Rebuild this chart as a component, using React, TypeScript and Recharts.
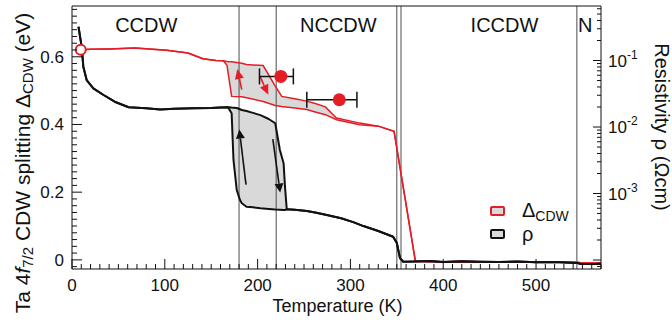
import React from "react";
import {
  ComposedChart,
  Area,
  Line,
  Scatter,
  ErrorBar,
  XAxis,
  YAxis,
  ReferenceLine,
  ReferenceDot,
  Legend,
} from "recharts";

const FONT = '"Liberation Sans", Arial, Helvetica, sans-serif';
const RED = "#e41e26";
const INK = "#111111";
const FILL = "#d9d9d9";
const RULE = "#4d4d4d";

// Ta 4f7/2 CDW splitting (eV), heating and cooling branches
const deltaTemps = [9, 20, 40, 68, 102, 125, 141, 155, 163, 167, 172, 183, 188, 206, 219, 226, 240, 253, 262, 273, 285, 310, 330, 347, 370, 400, 450, 500, 544, 550, 570];
const deltaHeat = [0.621, 0.622, 0.623, 0.626, 0.619, 0.611, 0.594, 0.589, 0.588, 0.586, 0.585, 0.581, 0.577, 0.574, 0.513, 0.483, 0.476, 0.469, 0.462, 0.452, 0.419, 0.404, 0.395, 0.38, -0.004, -0.006, -0.006, -0.007, -0.007, -0.009, -0.009];
const deltaCool = [0.621, 0.622, 0.623, 0.626, 0.619, 0.611, 0.594, 0.589, 0.588, 0.575, 0.483, 0.482, 0.479, 0.468, 0.456, 0.453, 0.449, 0.444, 0.437, 0.429, 0.414, 0.399, 0.395, 0.38, -0.004, -0.006, -0.006, -0.007, -0.007, -0.009, -0.009];

// resistivity (Ωcm), heating and cooling branches
const rhoTemps = [7, 10.4, 12.2, 15.8, 23, 34, 46, 61, 80, 95, 110, 131, 150, 160, 168, 172, 174, 177.5, 181, 183, 188, 195, 203, 212, 219, 224, 228, 229.5, 231.4, 240, 253, 262, 274.5, 290, 303, 314, 330, 346, 350, 353.4, 357, 370, 386, 400, 420, 440, 460, 480, 500, 520, 537, 544, 548, 570];
const rhoHeat = [0.322, 0.162, 0.0807, 0.0509, 0.0382, 0.0303, 0.024, 0.0198, 0.0192, 0.0183, 0.0188, 0.0191, 0.0193, 0.0196, 0.0199, 0.0196, 0.0195, 0.0193, 0.0185, 0.018, 0.0174, 0.0163, 0.0151, 0.0132, 0.0114, 0.00451, 0.00285, 0.00127, 0.00058, 0.00057, 0.000546, 0.000518, 0.000475, 0.000424, 0.000372, 0.000324, 0.000273, 0.000224, 0.00018, 0.000107, 0.0000942, 0.0000948, 0.0000966, 0.0000936, 0.0000956, 0.0000942, 0.0000933, 0.0000948, 0.0000924, 0.0000933, 0.0000912, 0.0000905, 0.0000871, 0.0000871];
const rhoCool = [0.322, 0.162, 0.0807, 0.0509, 0.0382, 0.0303, 0.024, 0.0198, 0.0192, 0.0183, 0.0188, 0.0191, 0.0193, 0.0196, 0.0199, 0.0161, 0.0032, 0.00113, 0.0008, 0.000713, 0.000634, 0.000621, 0.0006, 0.000585, 0.000574, 0.00057, 0.000567, 0.000566, 0.00058, 0.00057, 0.000546, 0.000518, 0.000475, 0.000424, 0.000372, 0.000324, 0.000273, 0.000224, 0.00018, 0.000107, 0.0000942, 0.0000948, 0.0000966, 0.0000936, 0.0000956, 0.0000942, 0.0000933, 0.0000948, 0.0000924, 0.0000933, 0.0000912, 0.0000905, 0.0000871, 0.0000871];

// filled points with asymmetric temperature error bars
const dotTemps = [225, 288];
const dotDelta = [0.542, 0.473];
const dotErrLow = [23, 35];
const dotErrHigh = [13.5, 19];

// open circle at low temperature
const openTemps = [9.4];
const openDelta = [0.621];

// transitions and phase names
const transitionTemps = [180, 220, 350, 354.5, 544];
const phaseNames = ["CCDW", "NCCDW", "ICCDW", "N"];
const phaseTemps = [80, 287, 466, 553];
const PHASE_Y = 0.695;

// hysteresis arrows: [T from, Δ from, T to, Δ to]
const redArrows = [
  [182.9, 0.503, 178.1, 0.564],
  [202.6, 0.542, 211.5, 0.488],
];
const blackArrows = [
  [187.5, 0.222, 180.3, 0.385],
  [216.4, 0.357, 224.3, 0.199],
];

const T_MAX = 570;
const DELTA_MIN = -0.027;
const DELTA_MAX = 0.75;
const RHO_MIN = 7.33e-5;
const RHO_MAX = 0.66;

const xTicks = Array.from({ length: 58 }, (_, i) => i * 10);
const deltaTicks = Array.from({ length: 39 }, (_, i) => Math.round((i - 1) * 2) / 100);
const rhoDecades = [1e-5, 1e-4, 1e-3, 1e-2, 1e-1];
const rhoTicks = rhoDecades
  .flatMap((d) => [1, 2, 3, 4, 5, 6, 7, 8, 9].map((m) => m * d))
  .filter((v) => v >= RHO_MIN && v <= RHO_MAX);

const deltaRows = deltaTemps.map((T, i) => ({
  T,
  heat: deltaHeat[i],
  cool: deltaCool[i],
  band: [deltaCool[i], deltaHeat[i]],
}));
const rhoRows = rhoTemps.map((T, i) => ({
  T,
  heat: rhoHeat[i],
  cool: rhoCool[i],
  band: [rhoCool[i], rhoHeat[i]],
}));
const dotRows = dotTemps.map((T, i) => ({ T, d: dotDelta[i], err: [dotErrLow[i], dotErrHigh[i]] }));
const openRows = openTemps.map((T, i) => ({ T, d: openDelta[i] }));

const legendItems = [
  { name: "Δ", sub: "CDW", color: RED },
  { name: "ρ", sub: "", color: INK },
];

const TempTick = ({ x, y, payload }: any) => {
  const v = payload.value as number;
  const major = v % 100 === 0;
  return (
    <g>
      <line x1={x} x2={x} y1={y} y2={y - (major ? 10 : 5)} stroke={INK} />
      {major && (
        <text x={x} y={y + 22} textAnchor="middle" fontSize={17} fontFamily={FONT} fill={INK}>
          {v}
        </text>
      )}
    </g>
  );
};

const DeltaTick = ({ x, y, payload }: any) => {
  const v = payload.value as number;
  const major = Math.abs(v * 5 - Math.round(v * 5)) < 1e-6;
  return (
    <g>
      <line x1={x} x2={x + (major ? 10 : 5)} y1={y} y2={y} stroke={INK} />
      {major && v >= 0 && (
        <text x={x - 8} y={y + 6} textAnchor="end" fontSize={17} fontFamily={FONT} fill={INK}>
          {v === 0 ? "0" : v.toFixed(1)}
        </text>
      )}
    </g>
  );
};

const RhoTick = ({ x, y, payload }: any) => {
  const v = payload.value as number;
  const lg = Math.log10(v);
  const exp = Math.round(lg);
  const major = Math.abs(lg - exp) < 1e-6;
  return (
    <g>
      <line x1={x} x2={x - (major ? 8 : 4)} y1={y} y2={y} stroke={INK} />
      {major && exp >= -3 && (
        <text x={x + 7} y={y + 6} fontSize={17} fontFamily={FONT} fill={INK}>
          10
          <tspan dy={-8} fontSize={12}>{`-${-exp}`}</tspan>
        </text>
      )}
    </g>
  );
};

const LeftTitle = ({ viewBox }: any) => {
  const cx = viewBox.x - 49;
  const cy = viewBox.y + 157;
  return (
    <text
      transform={`translate(${cx},${cy}) rotate(-90)`}
      textAnchor="middle"
      dominantBaseline="central"
      fontSize={21}
      fontFamily={FONT}
      fill={INK}
    >
      Ta 4<tspan fontStyle="italic">f</tspan>
      <tspan fontSize={15} dy={5}>7/2</tspan>
      <tspan dy={-5}> CDW splitting Δ</tspan>
      <tspan fontSize={15} dy={5}>CDW</tspan>
      <tspan dy={-5}> (eV)</tspan>
    </text>
  );
};

const RightTitle = ({ viewBox }: any) => {
  const cx = viewBox.x + 61;
  const cy = viewBox.y + 121;
  return (
    <text
      transform={`translate(${cx},${cy}) rotate(90)`}
      textAnchor="middle"
      dominantBaseline="central"
      fontSize={20}
      fontFamily={FONT}
      fill={INK}
    >
      Resistivity ρ (Ωcm)
    </text>
  );
};

const BottomTitle = ({ viewBox }: any) => (
  <text
    x={viewBox.x + viewBox.width / 2 + 1}
    y={viewBox.y + 43}
    textAnchor="middle"
    fontSize={18}
    fontFamily={FONT}
    fill={INK}
  >
    Temperature (K)
  </text>
);

function arrowShape(color: string, head: number, halfW: number) {
  return (p: any) => {
    const { x1, y1, x2, y2 } = p;
    const dx = x2 - x1;
    const dy = y2 - y1;
    const len = Math.hypot(dx, dy) || 1;
    const ux = dx / len;
    const uy = dy / len;
    const bx = x2 - ux * head;
    const by = y2 - uy * head;
    const px = -uy * halfW;
    const py = ux * halfW;
    return (
      <g>
        <line x1={x1} y1={y1} x2={bx} y2={by} stroke={color} strokeWidth={1.6} />
        <polygon points={`${x2},${y2} ${bx + px},${by + py} ${bx - px},${by - py}`} fill={color} />
      </g>
    );
  };
}

const LegendBox = () => (
  <div style={{ fontFamily: FONT, color: INK }}>
    {legendItems.map((it) => (
      <div key={it.name} style={{ display: "flex", alignItems: "center", height: 23 }}>
        <span
          style={{
            display: "inline-block",
            boxSizing: "border-box",
            width: 15,
            height: 10,
            border: `2px solid ${it.color}`,
            borderRadius: 2,
            background: FILL,
            marginLeft: 2,
            marginRight: 17,
          }}
        />
        <span style={{ fontSize: 20, lineHeight: "20px" }}>
          {it.name}
          {it.sub && <span style={{ fontSize: 14, position: "relative", top: 4 }}>{it.sub}</span>}
        </span>
      </div>
    ))}
  </div>
);

export default function App() {
  return (
    <div style={{ position: "absolute", left: 0, top: 0, width: 672, height: 324, background: "#fff" }}>
      <ComposedChart width={672} height={324} margin={{ top: 6, right: 70, bottom: 54, left: 71 }}>
        <XAxis
          dataKey="T"
          type="number"
          domain={[0, T_MAX]}
          allowDataOverflow
          ticks={xTicks}
          interval={0}
          tickSize={0}
          tickMargin={0}
          height={1}
          tick={TempTick}
          axisLine={{ stroke: INK }}
          label={BottomTitle}
        />
        <YAxis
          yAxisId="left"
          type="number"
          domain={[DELTA_MIN, DELTA_MAX]}
          allowDataOverflow
          ticks={deltaTicks}
          interval={0}
          tickSize={0}
          tickMargin={0}
          width={1}
          tick={DeltaTick}
          axisLine={{ stroke: INK }}
          label={LeftTitle}
        />
        <YAxis
          yAxisId="right"
          orientation="right"
          type="number"
          scale="log"
          domain={[RHO_MIN, RHO_MAX]}
          allowDataOverflow
          ticks={rhoTicks}
          interval={0}
          tickSize={0}
          tickMargin={0}
          width={1}
          tick={RhoTick}
          axisLine={{ stroke: INK }}
          label={RightTitle}
        />

        <Area
          data={deltaRows}
          dataKey="band"
          yAxisId="left"
          type="linear"
          stroke="none"
          fill={FILL}
          fillOpacity={1}
          isAnimationActive={false}
        />
        <Area
          data={rhoRows}
          dataKey="band"
          yAxisId="right"
          type="linear"
          stroke="none"
          fill={FILL}
          fillOpacity={1}
          isAnimationActive={false}
        />

        {transitionTemps.map((t) => (
          <ReferenceLine key={t} x={t} yAxisId="left" stroke={RULE} strokeWidth={1} />
        ))}
        <ReferenceLine y={DELTA_MAX} yAxisId="left" stroke={INK} strokeWidth={1} ifOverflow="visible" />

        <Line data={deltaRows} dataKey="heat" yAxisId="left" type="linear" stroke={RED} strokeWidth={1.5} dot={false} isAnimationActive={false} />
        <Line data={deltaRows} dataKey="cool" yAxisId="left" type="linear" stroke={RED} strokeWidth={1.5} dot={false} isAnimationActive={false} />
        <Line data={rhoRows} dataKey="heat" yAxisId="right" type="linear" stroke={INK} strokeWidth={2} dot={false} strokeLinejoin="round" isAnimationActive={false} />
        <Line data={rhoRows} dataKey="cool" yAxisId="right" type="linear" stroke={INK} strokeWidth={2} dot={false} strokeLinejoin="round" isAnimationActive={false} />

        {redArrows.map((a, i) => (
          <ReferenceLine
            key={`ra${i}`}
            yAxisId="left"
            segment={[{ x: a[0], y: a[1] }, { x: a[2], y: a[3] }]}
            shape={arrowShape(RED, 10, 4.5)}
          />
        ))}
        {blackArrows.map((a, i) => (
          <ReferenceLine
            key={`ba${i}`}
            yAxisId="left"
            segment={[{ x: a[0], y: a[1] }, { x: a[2], y: a[3] }]}
            shape={arrowShape(INK, 9, 4.5)}
          />
        ))}

        <Scatter
          data={dotRows}
          dataKey="d"
          yAxisId="left"
          isAnimationActive={false}
          shape={(p: any) => <circle cx={p.cx} cy={p.cy} r={6.5} fill={RED} />}
        >
          <ErrorBar dataKey="err" direction="x" width={8} stroke={INK} strokeWidth={1.5} isAnimationActive={false} />
        </Scatter>
        <Scatter
          data={openRows}
          dataKey="d"
          yAxisId="left"
          isAnimationActive={false}
          shape={(p: any) => <circle cx={p.cx} cy={p.cy} r={5} fill="#fff" stroke={RED} strokeWidth={2} />}
        />

        {phaseNames.map((name, i) => (
          <ReferenceDot
            key={name}
            x={phaseTemps[i]}
            y={PHASE_Y}
            yAxisId="left"
            r={0}
            shape={(p: any) => (
              <text x={p.cx} y={p.cy + 7} textAnchor="middle" fontSize={20} fontFamily={FONT} fill={INK}>
                {name}
              </text>
            )}
          />
        ))}

        <Legend
          layout="vertical"
          align="center"
          verticalAlign="middle"
          content={LegendBox}
          wrapperStyle={{ left: 488, top: 199, width: 110, height: 46 }}
        />
      </ComposedChart>
    </div>
  );
}
